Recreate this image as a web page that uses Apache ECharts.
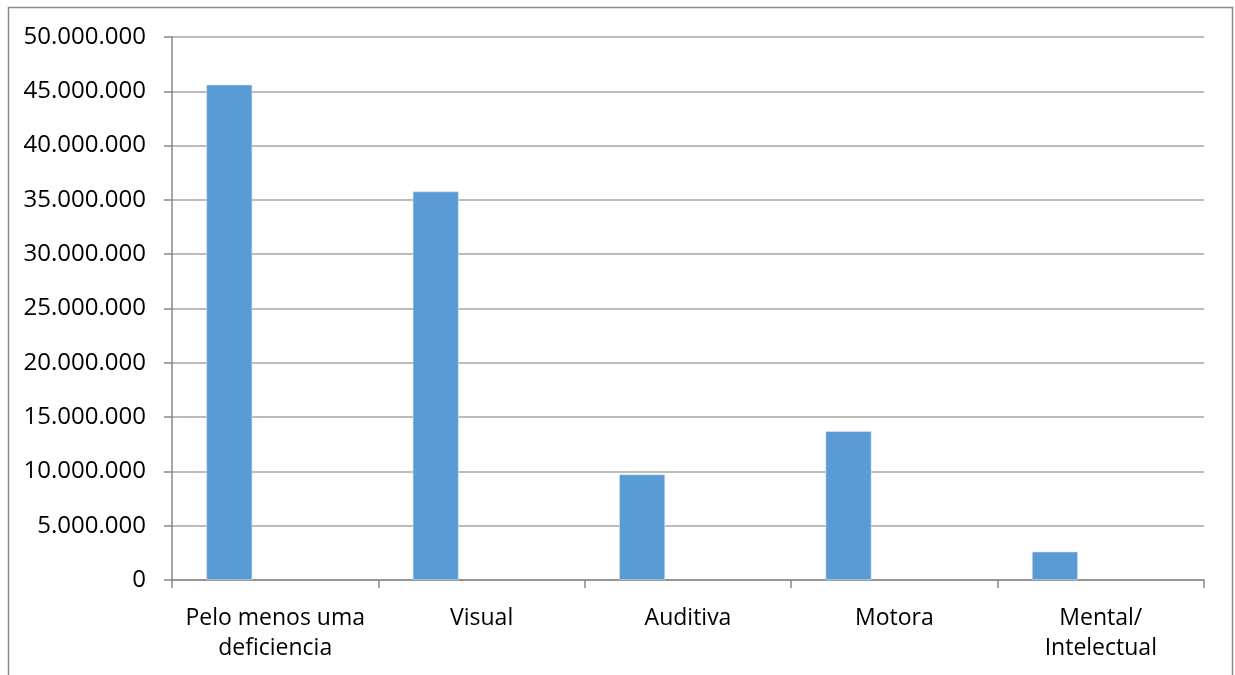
<!DOCTYPE html>
<html>
<head>
<meta charset="utf-8">
<script src="https://cdn.jsdelivr.net/npm/echarts@6/dist/echarts.min.js"></script>
<style>
html,body{margin:0;padding:0;background:#fff;}
#c{width:1235px;height:675px;}
</style>
</head>
<body>
<div id="c"></div>
<script>
const categories = ["Pelo menos uma\ndeficiencia", "Visual", "Auditiva", "Motora", "Mental/\nIntelectual"];
const values = [45606048, 35774392, 9717318, 13700000, 2611536];
const emptySeries = [null, null, null, null, null];
const yMin = 0, yMax = 50000000, yStep = 5000000;

function fmt(v){ return String(v).replace(/\B(?=(\d{3})+(?!\d))/g, '.'); }

const chart = echarts.init(document.getElementById('c'));
const font = '"Open Sans", sans-serif';
chart.setOption({
  animation: false,
  backgroundColor: '#fff',
  graphic: [{
    type: 'rect', silent: true,
    shape: {x: 8.5, y: 7.5, width: 1224, height: 720},
    style: {fill: 'none', stroke: '#898989', lineWidth: 1.5}
  }],
  grid: {left: 172, right: 31, top: 37, bottom: 95, containLabel: false},
  xAxis: {
    type: 'category',
    data: categories,
    axisLine: {lineStyle: {color: '#888', width: 1.5}},
    axisTick: {show: true, length: 8, lineStyle: {color: '#888', width: 1.5}},
    axisLabel: {color: '#000', fontFamily: font, fontSize: 23, lineHeight: 30, margin: 23, interval: 0}
  },
  yAxis: {
    type: 'value',
    min: yMin, max: yMax, interval: yStep,
    axisLine: {show: true, lineStyle: {color: '#888', width: 1.5}},
    axisTick: {show: true, length: 8, lineStyle: {color: '#888', width: 1.5}},
    splitLine: {lineStyle: {color: '#a6a6a6', width: 1.5}},
    axisLabel: {color: '#000', fontFamily: font, fontSize: 24, margin: 26, formatter: fmt}
  },
  series: [
    {type: 'bar', data: values, barGap: '0%', barCategoryGap: '33.3%',
     itemStyle: {color: '#5b9bd5', borderColor: '#d6e4f2', borderWidth: 0.6}},
    {type: 'bar', data: emptySeries, barGap: '0%', barCategoryGap: '33.3%'},
    {type: 'bar', data: emptySeries, barGap: '0%', barCategoryGap: '33.3%'}
  ]
});
</script>
</body>
</html>
